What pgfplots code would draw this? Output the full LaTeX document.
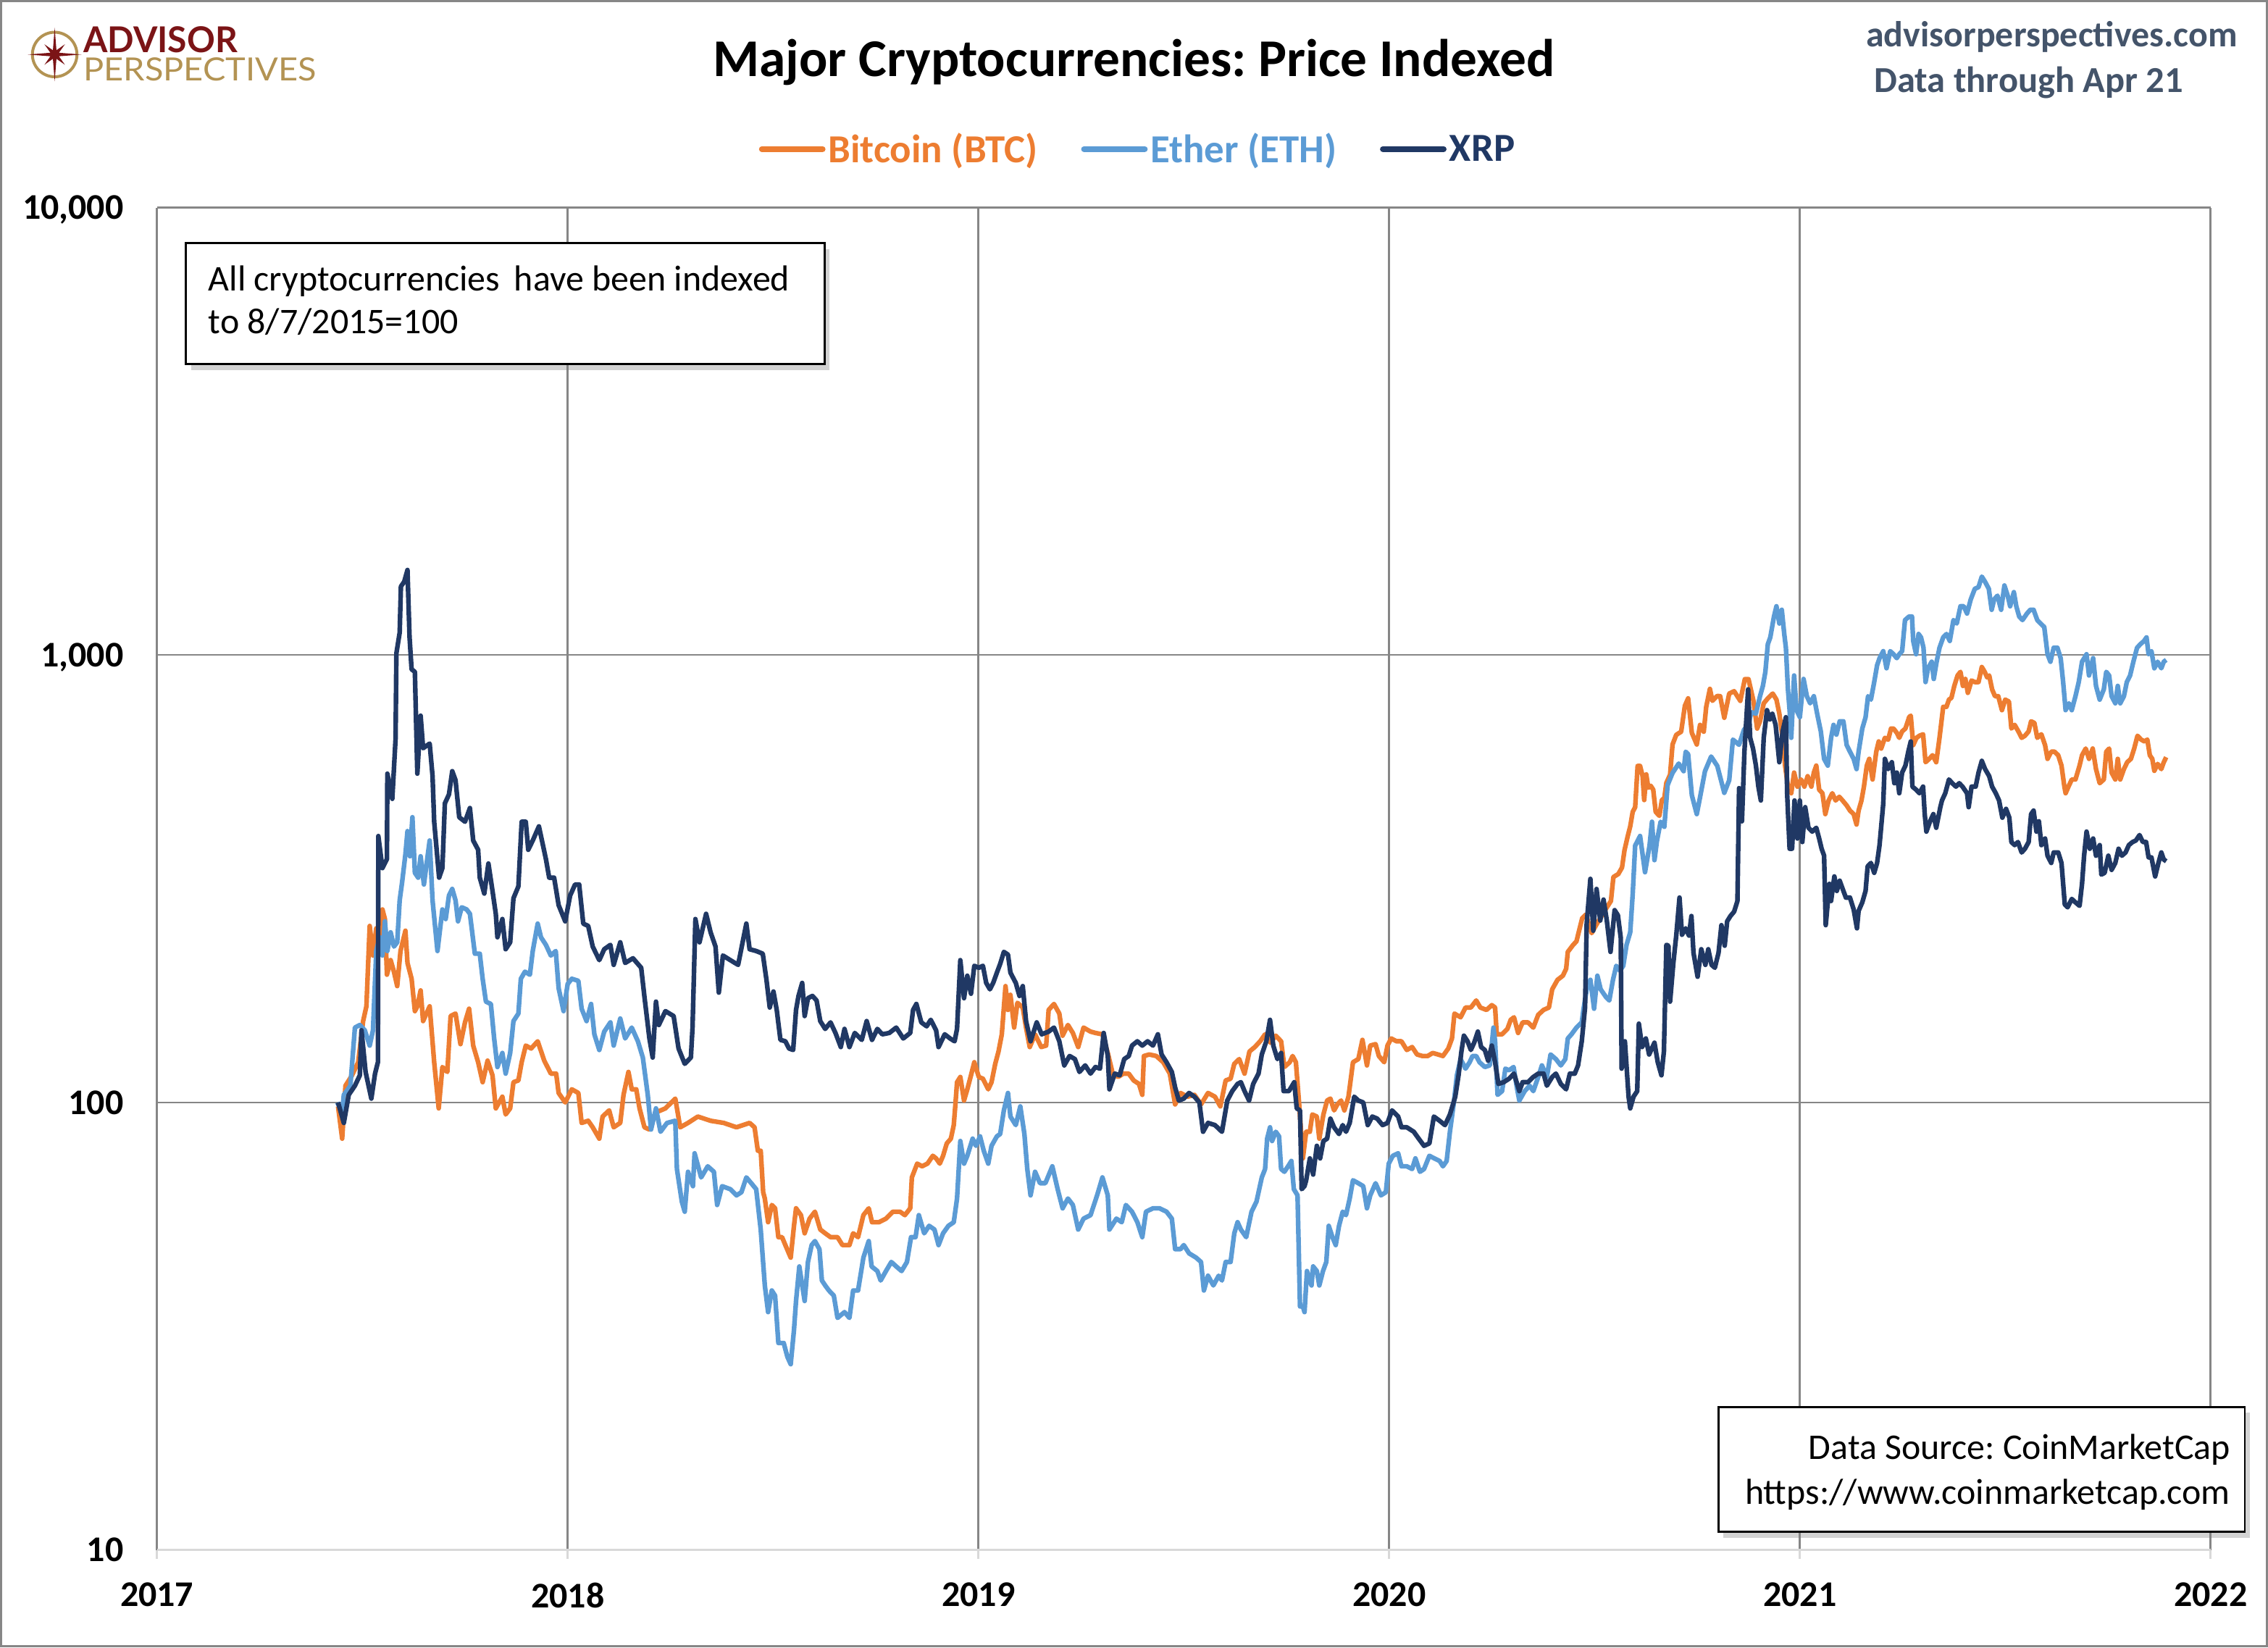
\documentclass[border=0pt]{standalone}
\usepackage{fontspec}
\setmainfont{Carlito}
\newfontfamily\lato{Lato}
\usepackage{graphicx}
\usepackage{pgfplots}
\pgfplotsset{compat=1.18}
\usepackage{pgfplotstable}
\usetikzlibrary{shadows}
\definecolor{btc}{HTML}{ED7D31}
\definecolor{eth}{HTML}{5B9BD5}
\definecolor{xrp}{HTML}{203864}
\definecolor{gridgray}{HTML}{868686}
\definecolor{axgray}{HTML}{D9D9D9}
\definecolor{framegray}{HTML}{868686}
\definecolor{slate}{HTML}{44546A}
\definecolor{apmaroon}{HTML}{7B1416}
\definecolor{apgold}{HTML}{B39353}
\newcommand\F[1]{\fontsize{#1bp}{#1bp}\selectfont}
\frenchspacing

\pgfplotstableread{
x y
2017.441 98
2017.451 83
2017.459 109
2017.475 115
2017.490 123
2017.502 152
2017.510 164
2017.518 248
2017.526 213
2017.534 245
2017.542 218
2017.549 270
2017.555 257
2017.560 193
2017.569 208
2017.577 196
2017.585 182
2017.593 218
2017.605 242
2017.610 205
2017.620 189
2017.628 160
2017.634 164
2017.642 178
2017.648 152
2017.664 164
2017.675 123
2017.686 97
2017.695 120
2017.707 117
2017.715 156
2017.727 158
2017.739 135
2017.750 151
2017.760 162
2017.770 134
2017.782 123
2017.793 111
2017.805 124
2017.817 115
2017.825 97
2017.841 103
2017.849 94
2017.860 97
2017.868 111
2017.880 112
2017.888 123
2017.898 134
2017.911 132
2017.927 137
2017.943 124
2017.959 116
2017.972 116
2017.978 105
2017.994 100
2018.010 107
2018.026 105
2018.034 90
2018.050 91
2018.061 88
2018.077 83
2018.085 93
2018.101 96
2018.112 88
2018.128 90
2018.136 104
2018.148 117
2018.156 107
2018.167 107
2018.175 97
2018.187 88
2018.199 87
2018.215 95
2018.238 97
2018.262 102
2018.274 88
2018.293 90
2018.317 93
2018.348 91
2018.380 90
2018.411 88
2018.443 90
2018.455 88
2018.463 78
2018.470 78
2018.476 63
2018.480 61
2018.488 54
2018.497 59
2018.505 58
2018.513 50
2018.522 50
2018.530 48
2018.543 45
2018.551 53
2018.556 58
2018.568 56
2018.577 51
2018.589 55
2018.602 57
2018.615 52
2018.627 51
2018.640 50
2018.657 50
2018.669 48
2018.686 48
2018.695 51
2018.707 50
2018.720 56
2018.733 58
2018.741 54
2018.758 54
2018.775 55
2018.792 57
2018.809 57
2018.821 56
2018.834 58
2018.838 68
2018.851 73
2018.863 72
2018.876 73
2018.889 76
2018.897 75
2018.906 73
2018.914 76
2018.923 81
2018.933 83
2018.940 89
2018.944 99
2018.948 111
2018.956 114
2018.965 101
2018.973 107
2018.982 115
2018.990 123
2019.001 114
2019.011 113
2019.024 107
2019.032 111
2019.041 122
2019.049 130
2019.057 142
2019.066 182
2019.072 161
2019.078 174
2019.087 147
2019.095 167
2019.108 163
2019.116 147
2019.125 133
2019.138 142
2019.153 133
2019.165 134
2019.171 161
2019.184 166
2019.197 158
2019.205 141
2019.218 149
2019.230 143
2019.243 133
2019.256 147
2019.273 144
2019.285 143
2019.302 142
2019.315 129
2019.327 116
2019.340 114
2019.353 116
2019.366 116
2019.378 112
2019.391 110
2019.399 104
2019.403 127
2019.416 128
2019.433 127
2019.450 123
2019.466 116
2019.479 99
2019.492 105
2019.509 103
2019.526 104
2019.542 99
2019.559 105
2019.576 103
2019.589 98
2019.602 112
2019.614 113
2019.623 122
2019.635 125
2019.648 116
2019.660 130
2019.673 133
2019.686 137
2019.698 142
2019.711 136
2019.724 141
2019.737 137
2019.745 120
2019.758 123
2019.765 127
2019.773 123
2019.781 99
2019.790 75
2019.798 86
2019.807 86
2019.813 94
2019.824 93
2019.830 83
2019.840 94
2019.849 101
2019.857 102
2019.866 96
2019.874 99
2019.883 101
2019.891 96
2019.901 103
2019.912 123
2019.925 125
2019.935 138
2019.946 121
2019.954 134
2019.967 135
2019.975 127
2019.988 123
2019.996 134
2020.005 139
2020.018 137
2020.030 137
2020.043 131
2020.056 133
2020.068 128
2020.081 127
2020.094 127
2020.106 129
2020.119 128
2020.131 127
2020.144 132
2020.153 139
2020.159 158
2020.174 155
2020.186 163
2020.199 163
2020.212 169
2020.222 163
2020.237 161
2020.250 165
2020.258 163
2020.262 142
2020.275 142
2020.288 146
2020.296 153
2020.304 155
2020.314 143
2020.325 151
2020.338 151
2020.351 147
2020.363 157
2020.376 161
2020.389 163
2020.397 179
2020.410 188
2020.423 192
2020.431 199
2020.435 217
2020.448 225
2020.456 229
2020.470 258
2020.479 263
2020.493 239
2020.505 250
2020.528 271
2020.540 282
2020.546 319
2020.558 324
2020.567 335
2020.573 366
2020.581 394
2020.587 414
2020.593 446
2020.599 457
2020.605 565
2020.611 565
2020.617 537
2020.621 474
2020.626 541
2020.631 505
2020.637 510
2020.643 500
2020.649 446
2020.658 437
2020.664 474
2020.670 479
2020.675 518
2020.684 540
2020.690 631
2020.699 663
2020.711 674
2020.720 770
2020.728 800
2020.737 670
2020.749 631
2020.757 698
2020.766 674
2020.772 766
2020.781 840
2020.787 790
2020.799 810
2020.806 809
2020.816 724
2020.828 820
2020.840 830
2020.855 790
2020.866 883
2020.875 883
2020.887 790
2020.896 685
2020.903 711
2020.912 780
2020.922 800
2020.934 820
2020.943 795
2020.950 740
2020.958 653
2020.964 566
2020.971 508
2020.979 491
2020.986 546
2020.994 508
2021.003 527
2021.011 508
2021.019 536
2021.028 508
2021.034 546
2021.040 566
2021.047 500
2021.055 491
2021.062 441
2021.070 473
2021.079 491
2021.087 473
2021.096 482
2021.104 473
2021.114 461
2021.122 449
2021.131 441
2021.138 418
2021.143 449
2021.150 473
2021.156 508
2021.163 566
2021.169 586
2021.177 527
2021.186 608
2021.192 641
2021.198 618
2021.207 653
2021.215 647
2021.222 685
2021.228 685
2021.236 670
2021.242 653
2021.249 675
2021.257 685
2021.266 726
2021.270 732
2021.276 629
2021.284 653
2021.291 660
2021.300 665
2021.306 576
2021.315 586
2021.323 597
2021.332 576
2021.340 653
2021.349 766
2021.357 766
2021.363 795
2021.369 802
2021.376 853
2021.384 900
2021.391 917
2021.397 853
2021.403 884
2021.409 823
2021.418 877
2021.426 870
2021.435 870
2021.443 940
2021.450 917
2021.456 891
2021.461 900
2021.468 838
2021.475 809
2021.483 809
2021.492 753
2021.500 795
2021.509 787
2021.515 685
2021.523 698
2021.532 675
2021.540 653
2021.548 660
2021.557 675
2021.563 711
2021.571 705
2021.578 653
2021.588 665
2021.597 629
2021.603 586
2021.612 608
2021.620 608
2021.629 597
2021.637 566
2021.644 508
2021.647 491
2021.654 508
2021.662 527
2021.671 527
2021.681 566
2021.687 597
2021.696 618
2021.704 586
2021.713 618
2021.721 556
2021.730 517
2021.740 527
2021.746 608
2021.753 618
2021.759 546
2021.768 527
2021.774 586
2021.780 527
2021.789 556
2021.797 576
2021.806 586
2021.814 618
2021.822 660
2021.831 647
2021.839 641
2021.846 647
2021.852 597
2021.858 586
2021.863 551
2021.871 571
2021.880 556
2021.886 576
2021.892 591
}\btcdata

\pgfplotstableread{
x y
2017.439 100
2017.451 95
2017.455 104
2017.471 109
2017.482 147
2017.494 149
2017.506 145
2017.518 134
2017.526 145
2017.534 218
2017.542 234
2017.549 213
2017.555 254
2017.561 218
2017.569 240
2017.577 223
2017.585 228
2017.591 283
2017.597 311
2017.605 359
2017.610 404
2017.616 355
2017.622 434
2017.628 326
2017.636 318
2017.642 355
2017.650 307
2017.664 385
2017.671 283
2017.683 218
2017.695 270
2017.703 257
2017.711 290
2017.719 300
2017.727 283
2017.733 254
2017.742 273
2017.754 270
2017.762 264
2017.774 215
2017.786 215
2017.793 189
2017.801 168
2017.813 166
2017.821 139
2017.829 120
2017.841 129
2017.849 116
2017.860 129
2017.868 152
2017.880 158
2017.886 189
2017.896 196
2017.908 193
2017.915 218
2017.927 251
2017.935 234
2017.947 225
2017.959 213
2017.971 218
2017.978 180
2017.990 160
2018.000 184
2018.010 189
2018.026 187
2018.034 162
2018.046 152
2018.057 166
2018.065 142
2018.077 131
2018.089 144
2018.104 151
2018.112 134
2018.128 154
2018.140 139
2018.156 147
2018.171 137
2018.183 126
2018.195 104
2018.203 87
2018.215 97
2018.226 86
2018.242 90
2018.262 91
2018.266 71
2018.278 60
2018.285 57
2018.293 70
2018.305 65
2018.309 77
2018.325 68
2018.341 72
2018.356 70
2018.364 59
2018.376 65
2018.396 64
2018.411 62
2018.423 63
2018.435 68
2018.447 66
2018.459 64
2018.470 52
2018.480 39
2018.488 34
2018.497 38
2018.505 37
2018.513 29
2018.526 29
2018.535 27
2018.543 26
2018.551 31
2018.556 36
2018.564 43
2018.577 36
2018.585 44
2018.594 48
2018.602 49
2018.613 47
2018.619 40
2018.627 39
2018.636 38
2018.648 37
2018.657 33
2018.674 34
2018.686 33
2018.695 38
2018.707 38
2018.720 45
2018.733 49
2018.740 43
2018.754 42
2018.762 40
2018.775 42
2018.788 44
2018.800 43
2018.813 42
2018.826 44
2018.836 50
2018.847 50
2018.855 56
2018.868 51
2018.880 53
2018.893 52
2018.903 48
2018.914 51
2018.927 53
2018.940 54
2018.948 61
2018.956 82
2018.965 73
2018.973 76
2018.986 83
2018.994 80
2019.004 84
2019.013 78
2019.024 73
2019.032 80
2019.045 84
2019.053 85
2019.062 96
2019.072 105
2019.078 93
2019.091 89
2019.102 98
2019.112 85
2019.119 71
2019.127 62
2019.138 70
2019.150 66
2019.163 66
2019.180 72
2019.193 64
2019.205 58
2019.218 61
2019.230 59
2019.243 52
2019.256 55
2019.273 56
2019.289 62
2019.302 68
2019.315 62
2019.319 52
2019.336 55
2019.349 54
2019.359 59
2019.374 57
2019.387 54
2019.399 50
2019.408 57
2019.425 58
2019.441 58
2019.458 57
2019.471 55
2019.479 47
2019.492 47
2019.500 48
2019.513 46
2019.530 45
2019.542 44
2019.549 38
2019.559 41
2019.572 39
2019.585 41
2019.593 40
2019.602 44
2019.614 44
2019.623 51
2019.631 54
2019.639 52
2019.652 50
2019.665 57
2019.677 60
2019.690 68
2019.698 71
2019.703 83
2019.710 88
2019.715 82
2019.724 86
2019.732 84
2019.737 71
2019.745 70
2019.754 72
2019.762 74
2019.768 64
2019.777 62
2019.783 35
2019.790 35
2019.794 34
2019.800 42
2019.811 39
2019.815 43
2019.824 42
2019.830 39
2019.839 42
2019.847 44
2019.853 53
2019.862 50
2019.870 48
2019.878 53
2019.887 57
2019.895 56
2019.904 61
2019.912 67
2019.925 66
2019.937 65
2019.946 58
2019.954 62
2019.967 66
2019.980 62
2019.992 63
2019.999 73
2020.009 76
2020.022 77
2020.030 72
2020.043 72
2020.056 71
2020.064 75
2020.075 70
2020.085 71
2020.098 76
2020.110 75
2020.123 74
2020.131 72
2020.140 74
2020.148 86
2020.157 99
2020.165 115
2020.174 125
2020.186 119
2020.196 123
2020.203 127
2020.212 127
2020.220 123
2020.233 120
2020.245 121
2020.254 147
2020.258 137
2020.264 104
2020.275 106
2020.283 119
2020.292 118
2020.303 120
2020.311 108
2020.317 101
2020.330 106
2020.342 109
2020.351 106
2020.363 114
2020.372 121
2020.384 114
2020.393 128
2020.406 125
2020.418 121
2020.429 125
2020.435 139
2020.444 142
2020.456 147
2020.469 151
2020.473 161
2020.481 179
2020.490 188
2020.499 162
2020.507 192
2020.515 179
2020.528 172
2020.536 169
2020.545 188
2020.553 202
2020.562 197
2020.570 202
2020.578 225
2020.587 240
2020.593 292
2020.599 375
2020.611 394
2020.623 327
2020.634 375
2020.640 424
2020.646 348
2020.652 384
2020.661 424
2020.670 413
2020.678 512
2020.690 545
2020.705 572
2020.717 550
2020.722 608
2020.728 600
2020.737 486
2020.749 441
2020.757 481
2020.769 550
2020.784 593
2020.799 565
2020.816 492
2020.828 525
2020.837 647
2020.852 630
2020.864 681
2020.874 698
2020.882 745
2020.893 740
2020.903 809
2020.910 853
2020.916 917
2020.922 1057
2020.928 1095
2020.937 1219
2020.943 1285
2020.950 1176
2020.956 1262
2020.962 1114
2020.966 1038
2020.971 838
2020.975 753
2020.979 653
2020.986 900
2020.992 753
2021.000 726
2021.009 884
2021.017 809
2021.025 780
2021.034 809
2021.042 740
2021.051 675
2021.059 586
2021.068 566
2021.076 653
2021.082 698
2021.089 664
2021.097 711
2021.106 711
2021.114 629
2021.122 608
2021.131 586
2021.138 556
2021.143 608
2021.152 685
2021.160 726
2021.166 809
2021.173 795
2021.181 870
2021.188 948
2021.194 984
2021.203 1020
2021.211 934
2021.220 1020
2021.228 1004
2021.236 984
2021.242 1004
2021.249 1020
2021.256 1197
2021.266 1219
2021.273 1219
2021.276 1075
2021.283 1004
2021.289 1114
2021.295 1095
2021.301 1038
2021.306 870
2021.312 934
2021.321 966
2021.326 884
2021.333 966
2021.340 1038
2021.349 1095
2021.357 1114
2021.365 1075
2021.374 1197
2021.382 1176
2021.391 1285
2021.399 1285
2021.407 1238
2021.416 1331
2021.426 1406
2021.435 1418
2021.443 1497
2021.451 1457
2021.460 1406
2021.467 1262
2021.473 1331
2021.481 1357
2021.490 1262
2021.498 1430
2021.506 1357
2021.512 1285
2021.521 1382
2021.527 1285
2021.534 1219
2021.542 1197
2021.553 1238
2021.561 1262
2021.569 1262
2021.578 1197
2021.586 1176
2021.595 1155
2021.603 1004
2021.610 966
2021.618 1038
2021.627 1038
2021.635 984
2021.641 870
2021.647 753
2021.655 780
2021.662 753
2021.671 809
2021.679 870
2021.687 966
2021.698 1004
2021.704 900
2021.714 984
2021.721 853
2021.730 795
2021.740 838
2021.746 917
2021.753 900
2021.759 809
2021.768 780
2021.774 853
2021.780 780
2021.789 809
2021.796 870
2021.804 900
2021.812 966
2021.821 1038
2021.829 1057
2021.838 1075
2021.844 1095
2021.849 1004
2021.856 1020
2021.863 934
2021.871 966
2021.880 934
2021.886 966
2021.892 975
}\ethdata

\pgfplotstableread{
x y
2017.441 100
2017.455 90
2017.467 104
2017.482 109
2017.494 115
2017.498 145
2017.508 117
2017.522 102
2017.531 116
2017.538 123
2017.539 394
2017.549 334
2017.560 350
2017.561 543
2017.573 477
2017.581 650
2017.583 1009
2017.591 1122
2017.594 1423
2017.602 1458
2017.610 1549
2017.615 1097
2017.620 929
2017.628 917
2017.634 543
2017.642 732
2017.648 619
2017.664 634
2017.671 537
2017.675 424
2017.687 318
2017.695 334
2017.701 466
2017.711 488
2017.719 550
2017.727 525
2017.736 434
2017.750 424
2017.762 455
2017.770 385
2017.782 367
2017.786 318
2017.797 293
2017.807 342
2017.817 297
2017.825 264
2017.829 234
2017.841 257
2017.849 220
2017.860 228
2017.868 286
2017.880 304
2017.888 424
2017.898 424
2017.904 367
2017.915 385
2017.930 414
2017.947 350
2017.955 318
2017.967 318
2017.978 276
2017.994 254
2018.006 290
2018.018 307
2018.028 307
2018.038 251
2018.050 248
2018.061 223
2018.077 208
2018.089 220
2018.104 225
2018.112 203
2018.128 228
2018.140 205
2018.159 210
2018.179 200
2018.187 172
2018.199 139
2018.207 126
2018.215 168
2018.222 149
2018.238 160
2018.258 156
2018.270 132
2018.285 122
2018.300 126
2018.304 147
2018.311 257
2018.321 228
2018.337 264
2018.348 240
2018.360 223
2018.368 176
2018.378 213
2018.396 208
2018.415 203
2018.435 251
2018.443 220
2018.459 218
2018.475 215
2018.484 188
2018.492 163
2018.501 177
2018.509 161
2018.518 138
2018.530 137
2018.539 132
2018.549 131
2018.556 161
2018.562 173
2018.571 185
2018.577 156
2018.585 171
2018.596 173
2018.606 169
2018.615 152
2018.627 146
2018.640 151
2018.652 143
2018.665 133
2018.674 146
2018.686 133
2018.699 143
2018.716 138
2018.728 152
2018.741 138
2018.754 146
2018.766 142
2018.783 143
2018.800 147
2018.817 139
2018.834 143
2018.841 161
2018.849 166
2018.861 151
2018.874 148
2018.884 153
2018.897 145
2018.903 133
2018.918 142
2018.931 139
2018.942 137
2018.948 146
2018.956 208
2018.965 171
2018.973 192
2018.982 175
2018.990 202
2019.001 200
2019.011 202
2019.019 185
2019.028 179
2019.036 185
2019.045 195
2019.053 204
2019.062 217
2019.072 214
2019.078 195
2019.091 185
2019.100 173
2019.108 182
2019.116 152
2019.127 137
2019.142 151
2019.154 142
2019.171 144
2019.184 147
2019.197 137
2019.209 121
2019.222 127
2019.235 125
2019.246 117
2019.260 121
2019.273 116
2019.285 120
2019.296 119
2019.305 143
2019.315 127
2019.319 107
2019.332 116
2019.344 115
2019.355 125
2019.366 127
2019.374 134
2019.387 137
2019.399 134
2019.412 137
2019.425 134
2019.437 142
2019.446 128
2019.458 123
2019.471 117
2019.479 108
2019.488 101
2019.500 102
2019.513 105
2019.526 103
2019.538 100
2019.547 86
2019.559 90
2019.576 89
2019.593 86
2019.606 101
2019.618 106
2019.631 110
2019.639 111
2019.648 106
2019.659 101
2019.669 110
2019.682 116
2019.690 128
2019.701 137
2019.710 153
2019.718 134
2019.728 125
2019.737 129
2019.743 106
2019.756 106
2019.769 111
2019.775 97
2019.783 96
2019.787 64
2019.794 65
2019.798 67
2019.807 75
2019.815 69
2019.824 80
2019.832 75
2019.840 82
2019.849 83
2019.857 92
2019.866 88
2019.878 85
2019.887 89
2019.895 86
2019.904 90
2019.915 103
2019.925 101
2019.937 100
2019.948 89
2019.959 93
2019.971 92
2019.984 89
2019.996 90
2020.007 96
2020.022 93
2020.030 88
2020.043 88
2020.060 86
2020.072 83
2020.085 80
2020.098 81
2020.109 93
2020.123 91
2020.136 89
2020.148 94
2020.161 103
2020.169 115
2020.176 130
2020.182 141
2020.191 137
2020.199 131
2020.207 136
2020.216 144
2020.224 133
2020.233 131
2020.241 124
2020.250 134
2020.258 123
2020.266 110
2020.279 111
2020.292 113
2020.304 116
2020.317 106
2020.325 111
2020.338 111
2020.351 114
2020.363 116
2020.376 116
2020.384 109
2020.397 114
2020.406 116
2020.418 110
2020.431 107
2020.440 116
2020.452 116
2020.460 121
2020.469 137
2020.477 163
2020.481 251
2020.490 316
2020.497 242
2020.505 300
2020.514 255
2020.522 284
2020.530 255
2020.539 217
2020.549 269
2020.557 262
2020.564 233
2020.566 119
2020.574 137
2020.583 103
2020.587 97
2020.595 103
2020.604 106
2020.608 150
2020.616 133
2020.625 139
2020.633 128
2020.646 136
2020.654 123
2020.663 115
2020.669 130
2020.675 225
2020.680 224
2020.684 168
2020.692 205
2020.699 236
2020.707 287
2020.713 237
2020.722 245
2020.730 236
2020.736 261
2020.741 216
2020.751 191
2020.760 220
2020.770 203
2020.777 220
2020.785 203
2020.793 200
2020.802 216
2020.809 249
2020.817 224
2020.823 254
2020.831 261
2020.840 267
2020.848 282
2020.852 504
2020.859 425
2020.865 608
2020.874 838
2020.879 653
2020.886 618
2020.893 566
2020.899 508
2020.905 473
2020.912 653
2020.920 753
2020.927 718
2020.933 739
2020.941 698
2020.950 576
2020.958 675
2020.966 726
2020.969 491
2020.975 369
2020.981 369
2020.987 473
2020.994 389
2021.000 473
2021.006 382
2021.013 457
2021.021 411
2021.030 403
2021.040 411
2021.047 389
2021.053 369
2021.059 356
2021.063 249
2021.072 308
2021.076 282
2021.084 320
2021.090 297
2021.097 313
2021.106 297
2021.112 287
2021.122 287
2021.131 270
2021.139 245
2021.143 268
2021.152 280
2021.160 297
2021.165 337
2021.173 343
2021.181 326
2021.188 343
2021.194 376
2021.203 465
2021.207 586
2021.215 556
2021.224 576
2021.230 517
2021.236 546
2021.242 491
2021.249 546
2021.257 566
2021.264 608
2021.270 641
2021.274 508
2021.283 500
2021.291 491
2021.300 508
2021.304 441
2021.308 403
2021.317 425
2021.325 441
2021.332 411
2021.342 457
2021.346 473
2021.354 491
2021.363 527
2021.371 517
2021.380 508
2021.388 517
2021.396 508
2021.407 491
2021.411 457
2021.418 508
2021.428 508
2021.435 546
2021.443 580
2021.451 556
2021.461 536
2021.468 508
2021.477 491
2021.485 473
2021.493 433
2021.502 453
2021.510 433
2021.515 382
2021.523 376
2021.531 382
2021.540 362
2021.548 369
2021.557 382
2021.563 441
2021.569 449
2021.576 403
2021.582 425
2021.588 376
2021.597 389
2021.603 356
2021.612 343
2021.618 362
2021.629 362
2021.637 343
2021.645 277
2021.652 273
2021.662 285
2021.671 280
2021.681 275
2021.687 308
2021.692 356
2021.698 403
2021.706 369
2021.714 389
2021.721 356
2021.730 376
2021.734 323
2021.742 326
2021.751 356
2021.759 331
2021.768 343
2021.776 369
2021.784 356
2021.793 362
2021.801 376
2021.810 382
2021.818 385
2021.827 396
2021.835 382
2021.843 382
2021.849 353
2021.856 353
2021.865 320
2021.873 343
2021.880 362
2021.886 349
2021.892 346
}\xrpdata

\begin{document}
\begin{tikzpicture}[x=1bp,y=1bp]
\useasboundingbox (0,0) rectangle (1568,1139);
\begin{axis}[
  at={(108.5bp,67.5bp)}, anchor=south west,
  width=1419.8bp, height=928bp, scale only axis,
  xmin=2017, xmax=2022, ymin=10, ymax=10000, ymode=log,
  xtick={2017,2018,2019,2020,2021,2022},
  xticklabels={2017,2018,2019,2020,2021,2022},
  ytick={100,1000,10000},
  yticklabels={100,{1,000},{10,000}},
  extra y ticks={10}, extra y tick labels={10},
  extra y tick style={major grid style={color=axgray, line width=1.3bp}},
  yminorticks=false, xminorticks=false,
  grid=major,
  major grid style={color=gridgray, line width=1.3bp},
  axis line style={draw=none},
  tick pos=left, tick align=outside, major tick length=6bp,
  xtick style={color=axgray, line width=1.3bp},
  ytick style={draw=none},
  xticklabel style={font=\F{25}\bfseries, inner sep=0pt, anchor=north, yshift=-16.5bp},
  yticklabel style={font=\F{25}\bfseries, inner sep=0pt, anchor=east, xshift=-17bp, text depth=0pt},
  legend style={at={(0.4779,1.0436)}, anchor=center, draw=none, fill=none,
    font=\F{27.5}\bfseries, inner sep=0pt,
    /tikz/every even column/.append style={column sep=28bp}},
  legend columns=3,
  legend image code/.code={\draw[#1, line width=4bp, line cap=round] (0bp,0bp) -- (42bp,0bp);},
]
\addplot[btc, line width=3.2bp, line join=round] table[x=x,y=y] {\btcdata};
\addlegendentry{\textcolor{btc}{Bitcoin (BTC)}}
\addplot[eth, line width=3.2bp, line join=round] table[x=x,y=y] {\ethdata};
\addlegendentry{\textcolor{eth}{Ether (ETH)}}
\addplot[xrp, line width=3.2bp, line join=round] table[x=x,y=y] {\xrpdata};
\addlegendentry{\textcolor{xrp}{XRP}}
\end{axis}

% outer frame
\draw[framegray, line width=1.6bp] (0.8,0.8) rectangle (1567.2,1138.2);

% title and header
\node[anchor=base, inner sep=0pt, font=\F{36.7}\bfseries] at (784,1086) {Major Cryptocurrencies: Price Indexed};
\node[anchor=base west, inner sep=0pt, font=\F{25}\bfseries, text=slate] at (1290,1106.5) {advisorperspectives.com};
\node[anchor=base west, inner sep=0pt, font=\F{25.3}\bfseries, text=slate] at (1295.5,1075.3) {Data through Apr 21};

% logo
\draw[apgold, line width=2bp] (37.8,1101.3) circle (15.4bp);
\begin{scope}[shift={(37.8,1101.3)}]
\fill[apmaroon] (0:18.5bp) -- (22.5:3.2bp) -- (45:10bp) -- (67.5:3.2bp) -- (90:18.5bp) -- (112.5:3.2bp) -- (135:10bp) -- (157.5:3.2bp) -- (180:18.5bp) -- (202.5:3.2bp) -- (225:10bp) -- (247.5:3.2bp) -- (270:18.5bp) -- (292.5:3.2bp) -- (315:10bp) -- (337.5:3.2bp) -- cycle;
\end{scope}
\node[anchor=base west, inner sep=0pt, text=apmaroon] at (57.6,1102.8) {\resizebox{106.4bp}{18bp}{\lato\bfseries ADVISOR}};
\node[anchor=base west, inner sep=0pt, text=apgold] at (57.6,1083.3) {\resizebox{161bp}{16bp}{\lato PERSPECTIVES}};

% annotation box
\path[draw=black, line width=1.4bp, fill=white, drop shadow={shadow xshift=3.5bp, shadow yshift=-4bp, opacity=0.35}] (128.5,887.3) rectangle (570.1,970.8);
\node[anchor=base west, inner sep=0pt, font=\F{25}] at (143.9,938) {All cryptocurrencies\, have been indexed};
\node[anchor=base west, inner sep=0pt, font=\F{25}] at (143.9,908.5) {to 8/7/2015=100};

% source box
\path[draw=black, line width=1.4bp, fill=white, drop shadow={shadow xshift=3.5bp, shadow yshift=-4bp, opacity=0.35}] (1188,80) rectangle (1552,166.2);
\node[anchor=base east, inner sep=0pt, font=\F{25}] at (1542.1,130) {Data Source: CoinMarketCap};
\node[anchor=base east, inner sep=0pt, font=\F{25}] at (1542.1,99) {https://www.coinmarketcap.com};
\end{tikzpicture}
\end{document}
